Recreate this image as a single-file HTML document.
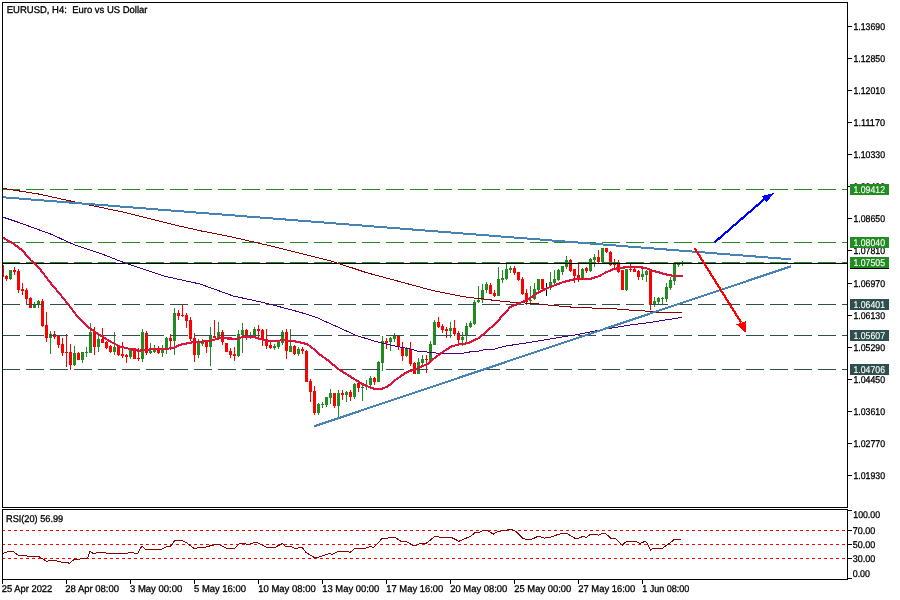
<!DOCTYPE html><html><head><meta charset="utf-8"><style>html,body{margin:0;padding:0;background:#fff}</style></head><body><svg width="900" height="600" viewBox="0 0 900 600" style="display:block;will-change:transform">
<rect width="900" height="600" fill="#fff"/>
<clipPath id="cp"><rect x="3" y="3" width="844" height="504"/></clipPath>
<g shape-rendering="crispEdges">
<g clip-path="url(#cp)">
<rect x="2" y="265" width="1" height="12" fill="#ff0000"/>
<rect x="1" y="265" width="3" height="12" fill="#ff0000"/>
<rect x="6" y="275" width="1" height="6" fill="#ff0000"/>
<rect x="5" y="276" width="3" height="3" fill="#ff0000"/>
<rect x="10" y="270" width="1" height="10" fill="#228b22"/>
<rect x="9" y="270" width="3" height="9" fill="#228b22"/>
<rect x="14" y="267" width="1" height="8" fill="#ff0000"/>
<rect x="13" y="270" width="3" height="2" fill="#ff0000"/>
<rect x="18" y="269" width="1" height="24" fill="#ff0000"/>
<rect x="17" y="271" width="3" height="19" fill="#ff0000"/>
<rect x="22" y="283" width="1" height="12" fill="#ff0000"/>
<rect x="21" y="289" width="3" height="2" fill="#ff0000"/>
<rect x="26" y="288" width="1" height="16" fill="#ff0000"/>
<rect x="25" y="290" width="3" height="9" fill="#ff0000"/>
<rect x="30" y="297" width="1" height="11" fill="#ff0000"/>
<rect x="29" y="298" width="3" height="10" fill="#ff0000"/>
<rect x="34" y="302" width="1" height="6" fill="#228b22"/>
<rect x="33" y="305" width="3" height="3" fill="#228b22"/>
<rect x="38" y="300" width="1" height="8" fill="#228b22"/>
<rect x="37" y="301" width="3" height="3" fill="#228b22"/>
<rect x="42" y="299" width="1" height="28" fill="#ff0000"/>
<rect x="41" y="301" width="3" height="25" fill="#ff0000"/>
<rect x="46" y="312" width="1" height="30" fill="#ff0000"/>
<rect x="45" y="325" width="3" height="13" fill="#ff0000"/>
<rect x="50" y="331" width="1" height="23" fill="#228b22"/>
<rect x="49" y="334" width="3" height="4" fill="#228b22"/>
<rect x="54" y="331" width="1" height="8" fill="#ff0000"/>
<rect x="53" y="334" width="3" height="3" fill="#ff0000"/>
<rect x="58" y="335" width="1" height="13" fill="#ff0000"/>
<rect x="57" y="336" width="3" height="9" fill="#ff0000"/>
<rect x="62" y="338" width="1" height="18" fill="#ff0000"/>
<rect x="61" y="344" width="3" height="9" fill="#ff0000"/>
<rect x="66" y="334" width="1" height="33" fill="#ff0000"/>
<rect x="65" y="352" width="3" height="1" fill="#ff0000"/>
<rect x="70" y="344" width="1" height="26" fill="#ff0000"/>
<rect x="69" y="352" width="3" height="13" fill="#ff0000"/>
<rect x="74" y="346" width="1" height="20" fill="#228b22"/>
<rect x="73" y="353" width="3" height="12" fill="#228b22"/>
<rect x="78" y="352" width="1" height="8" fill="#ff0000"/>
<rect x="77" y="353" width="3" height="7" fill="#ff0000"/>
<rect x="82" y="352" width="1" height="11" fill="#228b22"/>
<rect x="81" y="352" width="3" height="8" fill="#228b22"/>
<rect x="86" y="347" width="1" height="10" fill="#228b22"/>
<rect x="85" y="352" width="3" height="1" fill="#228b22"/>
<rect x="90" y="323" width="1" height="30" fill="#228b22"/>
<rect x="89" y="332" width="3" height="21" fill="#228b22"/>
<rect x="94" y="327" width="1" height="28" fill="#ff0000"/>
<rect x="93" y="332" width="3" height="15" fill="#ff0000"/>
<rect x="98" y="335" width="1" height="17" fill="#228b22"/>
<rect x="97" y="339" width="3" height="8" fill="#228b22"/>
<rect x="102" y="328" width="1" height="15" fill="#ff0000"/>
<rect x="101" y="339" width="3" height="4" fill="#ff0000"/>
<rect x="106" y="341" width="1" height="8" fill="#ff0000"/>
<rect x="105" y="342" width="3" height="6" fill="#ff0000"/>
<rect x="110" y="345" width="1" height="8" fill="#ff0000"/>
<rect x="109" y="346" width="3" height="6" fill="#ff0000"/>
<rect x="114" y="332" width="1" height="23" fill="#228b22"/>
<rect x="113" y="347" width="3" height="5" fill="#228b22"/>
<rect x="118" y="346" width="1" height="10" fill="#ff0000"/>
<rect x="117" y="347" width="3" height="8" fill="#ff0000"/>
<rect x="122" y="342" width="1" height="16" fill="#ff0000"/>
<rect x="121" y="354" width="3" height="2" fill="#ff0000"/>
<rect x="126" y="354" width="1" height="9" fill="#ff0000"/>
<rect x="125" y="355" width="3" height="2" fill="#ff0000"/>
<rect x="130" y="348" width="1" height="11" fill="#228b22"/>
<rect x="129" y="350" width="3" height="7" fill="#228b22"/>
<rect x="134" y="348" width="1" height="11" fill="#ff0000"/>
<rect x="133" y="348" width="3" height="11" fill="#ff0000"/>
<rect x="138" y="348" width="1" height="13" fill="#ff0000"/>
<rect x="137" y="358" width="3" height="1" fill="#ff0000"/>
<rect x="142" y="329" width="1" height="33" fill="#228b22"/>
<rect x="141" y="332" width="3" height="27" fill="#228b22"/>
<rect x="146" y="331" width="1" height="24" fill="#ff0000"/>
<rect x="145" y="333" width="3" height="20" fill="#ff0000"/>
<rect x="150" y="343" width="1" height="11" fill="#228b22"/>
<rect x="149" y="351" width="3" height="2" fill="#228b22"/>
<rect x="154" y="345" width="1" height="8" fill="#228b22"/>
<rect x="153" y="350" width="3" height="2" fill="#228b22"/>
<rect x="158" y="346" width="1" height="8" fill="#ff0000"/>
<rect x="157" y="349" width="3" height="4" fill="#ff0000"/>
<rect x="162" y="345" width="1" height="12" fill="#228b22"/>
<rect x="161" y="349" width="3" height="4" fill="#228b22"/>
<rect x="166" y="337" width="1" height="17" fill="#228b22"/>
<rect x="165" y="338" width="3" height="12" fill="#228b22"/>
<rect x="170" y="334" width="1" height="16" fill="#ff0000"/>
<rect x="169" y="338" width="3" height="3" fill="#ff0000"/>
<rect x="174" y="308" width="1" height="47" fill="#228b22"/>
<rect x="173" y="313" width="3" height="28" fill="#228b22"/>
<rect x="178" y="310" width="1" height="10" fill="#ff0000"/>
<rect x="177" y="313" width="3" height="3" fill="#ff0000"/>
<rect x="182" y="304" width="1" height="13" fill="#ff0000"/>
<rect x="181" y="315" width="3" height="1" fill="#ff0000"/>
<rect x="186" y="313" width="1" height="15" fill="#ff0000"/>
<rect x="185" y="315" width="3" height="6" fill="#ff0000"/>
<rect x="190" y="317" width="1" height="24" fill="#ff0000"/>
<rect x="189" y="320" width="3" height="19" fill="#ff0000"/>
<rect x="194" y="333" width="1" height="29" fill="#ff0000"/>
<rect x="193" y="338" width="3" height="17" fill="#ff0000"/>
<rect x="198" y="339" width="1" height="19" fill="#228b22"/>
<rect x="197" y="341" width="3" height="14" fill="#228b22"/>
<rect x="202" y="339" width="1" height="7" fill="#228b22"/>
<rect x="201" y="341" width="3" height="3" fill="#228b22"/>
<rect x="206" y="341" width="1" height="12" fill="#ff0000"/>
<rect x="205" y="341" width="3" height="6" fill="#ff0000"/>
<rect x="210" y="327" width="1" height="39" fill="#228b22"/>
<rect x="209" y="336" width="3" height="11" fill="#228b22"/>
<rect x="214" y="320" width="1" height="18" fill="#ff0000"/>
<rect x="213" y="336" width="3" height="2" fill="#ff0000"/>
<rect x="218" y="322" width="1" height="16" fill="#228b22"/>
<rect x="217" y="332" width="3" height="6" fill="#228b22"/>
<rect x="222" y="330" width="1" height="15" fill="#ff0000"/>
<rect x="221" y="332" width="3" height="10" fill="#ff0000"/>
<rect x="226" y="343" width="1" height="9" fill="#ff0000"/>
<rect x="225" y="343" width="3" height="9" fill="#ff0000"/>
<rect x="230" y="348" width="1" height="10" fill="#ff0000"/>
<rect x="229" y="351" width="3" height="4" fill="#ff0000"/>
<rect x="234" y="347" width="1" height="14" fill="#ff0000"/>
<rect x="233" y="354" width="3" height="2" fill="#ff0000"/>
<rect x="238" y="330" width="1" height="27" fill="#228b22"/>
<rect x="237" y="334" width="3" height="22" fill="#228b22"/>
<rect x="242" y="323" width="1" height="30" fill="#228b22"/>
<rect x="241" y="330" width="3" height="5" fill="#228b22"/>
<rect x="246" y="329" width="1" height="11" fill="#ff0000"/>
<rect x="245" y="330" width="3" height="7" fill="#ff0000"/>
<rect x="250" y="332" width="1" height="7" fill="#228b22"/>
<rect x="249" y="335" width="3" height="2" fill="#228b22"/>
<rect x="254" y="327" width="1" height="10" fill="#228b22"/>
<rect x="253" y="329" width="3" height="7" fill="#228b22"/>
<rect x="258" y="325" width="1" height="13" fill="#ff0000"/>
<rect x="257" y="329" width="3" height="2" fill="#ff0000"/>
<rect x="262" y="329" width="1" height="17" fill="#ff0000"/>
<rect x="261" y="330" width="3" height="10" fill="#ff0000"/>
<rect x="266" y="329" width="1" height="20" fill="#ff0000"/>
<rect x="265" y="339" width="3" height="7" fill="#ff0000"/>
<rect x="270" y="342" width="1" height="7" fill="#ff0000"/>
<rect x="269" y="345" width="3" height="3" fill="#ff0000"/>
<rect x="274" y="344" width="1" height="6" fill="#228b22"/>
<rect x="273" y="346" width="3" height="2" fill="#228b22"/>
<rect x="278" y="341" width="1" height="8" fill="#228b22"/>
<rect x="277" y="342" width="3" height="5" fill="#228b22"/>
<rect x="282" y="330" width="1" height="15" fill="#228b22"/>
<rect x="281" y="332" width="3" height="11" fill="#228b22"/>
<rect x="286" y="329" width="1" height="30" fill="#ff0000"/>
<rect x="285" y="332" width="3" height="19" fill="#ff0000"/>
<rect x="290" y="329" width="1" height="23" fill="#228b22"/>
<rect x="289" y="346" width="3" height="6" fill="#228b22"/>
<rect x="294" y="345" width="1" height="10" fill="#ff0000"/>
<rect x="293" y="346" width="3" height="8" fill="#ff0000"/>
<rect x="298" y="347" width="1" height="9" fill="#228b22"/>
<rect x="297" y="349" width="3" height="5" fill="#228b22"/>
<rect x="302" y="347" width="1" height="7" fill="#ff0000"/>
<rect x="301" y="349" width="3" height="2" fill="#ff0000"/>
<rect x="306" y="350" width="1" height="32" fill="#ff0000"/>
<rect x="305" y="351" width="3" height="31" fill="#ff0000"/>
<rect x="310" y="379" width="1" height="23" fill="#ff0000"/>
<rect x="309" y="381" width="3" height="11" fill="#ff0000"/>
<rect x="314" y="386" width="1" height="29" fill="#ff0000"/>
<rect x="313" y="391" width="3" height="22" fill="#ff0000"/>
<rect x="318" y="403" width="1" height="12" fill="#228b22"/>
<rect x="317" y="404" width="3" height="9" fill="#228b22"/>
<rect x="322" y="402" width="1" height="6" fill="#228b22"/>
<rect x="321" y="404" width="3" height="1" fill="#228b22"/>
<rect x="326" y="397" width="1" height="10" fill="#228b22"/>
<rect x="325" y="397" width="3" height="8" fill="#228b22"/>
<rect x="330" y="389" width="1" height="15" fill="#228b22"/>
<rect x="329" y="393" width="3" height="5" fill="#228b22"/>
<rect x="334" y="393" width="1" height="15" fill="#ff0000"/>
<rect x="333" y="393" width="3" height="13" fill="#ff0000"/>
<rect x="338" y="390" width="1" height="27" fill="#228b22"/>
<rect x="337" y="393" width="3" height="13" fill="#228b22"/>
<rect x="342" y="390" width="1" height="10" fill="#ff0000"/>
<rect x="341" y="393" width="3" height="2" fill="#ff0000"/>
<rect x="346" y="391" width="1" height="11" fill="#228b22"/>
<rect x="345" y="392" width="3" height="3" fill="#228b22"/>
<rect x="350" y="390" width="1" height="11" fill="#ff0000"/>
<rect x="349" y="392" width="3" height="5" fill="#ff0000"/>
<rect x="354" y="383" width="1" height="16" fill="#228b22"/>
<rect x="353" y="384" width="3" height="13" fill="#228b22"/>
<rect x="358" y="382" width="1" height="10" fill="#ff0000"/>
<rect x="357" y="383" width="3" height="5" fill="#ff0000"/>
<rect x="362" y="385" width="1" height="16" fill="#228b22"/>
<rect x="361" y="387" width="3" height="1" fill="#228b22"/>
<rect x="366" y="380" width="1" height="10" fill="#228b22"/>
<rect x="365" y="385" width="3" height="2" fill="#228b22"/>
<rect x="370" y="376" width="1" height="10" fill="#228b22"/>
<rect x="369" y="378" width="3" height="7" fill="#228b22"/>
<rect x="374" y="377" width="1" height="8" fill="#ff0000"/>
<rect x="373" y="378" width="3" height="4" fill="#ff0000"/>
<rect x="378" y="361" width="1" height="21" fill="#228b22"/>
<rect x="377" y="362" width="3" height="20" fill="#228b22"/>
<rect x="382" y="336" width="1" height="35" fill="#228b22"/>
<rect x="381" y="341" width="3" height="22" fill="#228b22"/>
<rect x="386" y="338" width="1" height="11" fill="#ff0000"/>
<rect x="385" y="341" width="3" height="2" fill="#ff0000"/>
<rect x="390" y="337" width="1" height="14" fill="#228b22"/>
<rect x="389" y="338" width="3" height="4" fill="#228b22"/>
<rect x="394" y="333" width="1" height="9" fill="#228b22"/>
<rect x="393" y="335" width="3" height="4" fill="#228b22"/>
<rect x="398" y="335" width="1" height="15" fill="#ff0000"/>
<rect x="397" y="336" width="3" height="11" fill="#ff0000"/>
<rect x="402" y="342" width="1" height="19" fill="#ff0000"/>
<rect x="401" y="348" width="3" height="8" fill="#ff0000"/>
<rect x="406" y="347" width="1" height="10" fill="#228b22"/>
<rect x="405" y="349" width="3" height="7" fill="#228b22"/>
<rect x="410" y="342" width="1" height="24" fill="#ff0000"/>
<rect x="409" y="349" width="3" height="15" fill="#ff0000"/>
<rect x="414" y="362" width="1" height="12" fill="#ff0000"/>
<rect x="413" y="363" width="3" height="11" fill="#ff0000"/>
<rect x="418" y="358" width="1" height="16" fill="#228b22"/>
<rect x="417" y="362" width="3" height="12" fill="#228b22"/>
<rect x="422" y="355" width="1" height="10" fill="#228b22"/>
<rect x="421" y="359" width="3" height="4" fill="#228b22"/>
<rect x="426" y="355" width="1" height="18" fill="#ff0000"/>
<rect x="425" y="359" width="3" height="1" fill="#ff0000"/>
<rect x="430" y="341" width="1" height="20" fill="#228b22"/>
<rect x="429" y="344" width="3" height="17" fill="#228b22"/>
<rect x="434" y="320" width="1" height="25" fill="#228b22"/>
<rect x="433" y="322" width="3" height="23" fill="#228b22"/>
<rect x="438" y="317" width="1" height="11" fill="#ff0000"/>
<rect x="437" y="322" width="3" height="5" fill="#ff0000"/>
<rect x="442" y="324" width="1" height="9" fill="#ff0000"/>
<rect x="441" y="326" width="3" height="4" fill="#ff0000"/>
<rect x="446" y="327" width="1" height="11" fill="#ff0000"/>
<rect x="445" y="329" width="3" height="2" fill="#ff0000"/>
<rect x="450" y="322" width="1" height="16" fill="#228b22"/>
<rect x="449" y="328" width="3" height="3" fill="#228b22"/>
<rect x="454" y="320" width="1" height="16" fill="#ff0000"/>
<rect x="453" y="328" width="3" height="6" fill="#ff0000"/>
<rect x="458" y="331" width="1" height="13" fill="#ff0000"/>
<rect x="457" y="333" width="3" height="7" fill="#ff0000"/>
<rect x="462" y="332" width="1" height="14" fill="#228b22"/>
<rect x="461" y="337" width="3" height="3" fill="#228b22"/>
<rect x="466" y="323" width="1" height="20" fill="#228b22"/>
<rect x="465" y="326" width="3" height="10" fill="#228b22"/>
<rect x="470" y="321" width="1" height="7" fill="#228b22"/>
<rect x="469" y="323" width="3" height="4" fill="#228b22"/>
<rect x="474" y="300" width="1" height="25" fill="#228b22"/>
<rect x="473" y="302" width="3" height="22" fill="#228b22"/>
<rect x="478" y="286" width="1" height="17" fill="#228b22"/>
<rect x="477" y="300" width="3" height="2" fill="#228b22"/>
<rect x="482" y="284" width="1" height="19" fill="#228b22"/>
<rect x="481" y="290" width="3" height="10" fill="#228b22"/>
<rect x="486" y="282" width="1" height="11" fill="#228b22"/>
<rect x="485" y="284" width="3" height="6" fill="#228b22"/>
<rect x="490" y="283" width="1" height="11" fill="#ff0000"/>
<rect x="489" y="285" width="3" height="9" fill="#ff0000"/>
<rect x="494" y="290" width="1" height="7" fill="#ff0000"/>
<rect x="493" y="293" width="3" height="3" fill="#ff0000"/>
<rect x="498" y="267" width="1" height="29" fill="#228b22"/>
<rect x="497" y="279" width="3" height="17" fill="#228b22"/>
<rect x="502" y="270" width="1" height="13" fill="#228b22"/>
<rect x="501" y="278" width="3" height="2" fill="#228b22"/>
<rect x="506" y="263" width="1" height="17" fill="#228b22"/>
<rect x="505" y="269" width="3" height="10" fill="#228b22"/>
<rect x="510" y="266" width="1" height="7" fill="#228b22"/>
<rect x="509" y="268" width="3" height="2" fill="#228b22"/>
<rect x="514" y="266" width="1" height="9" fill="#ff0000"/>
<rect x="513" y="268" width="3" height="5" fill="#ff0000"/>
<rect x="518" y="272" width="1" height="9" fill="#ff0000"/>
<rect x="517" y="272" width="3" height="8" fill="#ff0000"/>
<rect x="522" y="277" width="1" height="18" fill="#ff0000"/>
<rect x="521" y="279" width="3" height="15" fill="#ff0000"/>
<rect x="526" y="289" width="1" height="16" fill="#ff0000"/>
<rect x="525" y="293" width="3" height="9" fill="#ff0000"/>
<rect x="530" y="286" width="1" height="17" fill="#228b22"/>
<rect x="529" y="300" width="3" height="1" fill="#228b22"/>
<rect x="534" y="283" width="1" height="17" fill="#228b22"/>
<rect x="533" y="289" width="3" height="10" fill="#228b22"/>
<rect x="538" y="279" width="1" height="13" fill="#228b22"/>
<rect x="537" y="279" width="3" height="11" fill="#228b22"/>
<rect x="542" y="279" width="1" height="10" fill="#ff0000"/>
<rect x="541" y="279" width="3" height="10" fill="#ff0000"/>
<rect x="546" y="283" width="1" height="13" fill="#000"/>
<rect x="550" y="272" width="1" height="18" fill="#228b22"/>
<rect x="549" y="282" width="3" height="6" fill="#228b22"/>
<rect x="554" y="270" width="1" height="14" fill="#228b22"/>
<rect x="553" y="279" width="3" height="4" fill="#228b22"/>
<rect x="558" y="269" width="1" height="12" fill="#228b22"/>
<rect x="557" y="270" width="3" height="10" fill="#228b22"/>
<rect x="562" y="266" width="1" height="9" fill="#228b22"/>
<rect x="561" y="266" width="3" height="6" fill="#228b22"/>
<rect x="566" y="256" width="1" height="13" fill="#228b22"/>
<rect x="565" y="260" width="3" height="7" fill="#228b22"/>
<rect x="570" y="259" width="1" height="13" fill="#ff0000"/>
<rect x="569" y="260" width="3" height="11" fill="#ff0000"/>
<rect x="574" y="269" width="1" height="14" fill="#ff0000"/>
<rect x="573" y="269" width="3" height="7" fill="#ff0000"/>
<rect x="578" y="263" width="1" height="19" fill="#ff0000"/>
<rect x="577" y="275" width="3" height="4" fill="#ff0000"/>
<rect x="582" y="268" width="1" height="11" fill="#228b22"/>
<rect x="581" y="269" width="3" height="10" fill="#228b22"/>
<rect x="586" y="267" width="1" height="6" fill="#ff0000"/>
<rect x="585" y="268" width="3" height="3" fill="#ff0000"/>
<rect x="590" y="258" width="1" height="14" fill="#228b22"/>
<rect x="589" y="259" width="3" height="12" fill="#228b22"/>
<rect x="594" y="254" width="1" height="13" fill="#228b22"/>
<rect x="593" y="257" width="3" height="3" fill="#228b22"/>
<rect x="598" y="250" width="1" height="14" fill="#ff0000"/>
<rect x="597" y="257" width="3" height="5" fill="#ff0000"/>
<rect x="602" y="248" width="1" height="14" fill="#228b22"/>
<rect x="601" y="248" width="3" height="14" fill="#228b22"/>
<rect x="606" y="248" width="1" height="5" fill="#ff0000"/>
<rect x="605" y="248" width="3" height="4" fill="#ff0000"/>
<rect x="610" y="251" width="1" height="15" fill="#ff0000"/>
<rect x="609" y="252" width="3" height="13" fill="#ff0000"/>
<rect x="614" y="259" width="1" height="10" fill="#ff0000"/>
<rect x="613" y="263" width="3" height="2" fill="#ff0000"/>
<rect x="618" y="260" width="1" height="13" fill="#ff0000"/>
<rect x="617" y="263" width="3" height="9" fill="#ff0000"/>
<rect x="622" y="270" width="1" height="20" fill="#ff0000"/>
<rect x="621" y="270" width="3" height="20" fill="#ff0000"/>
<rect x="626" y="269" width="1" height="22" fill="#228b22"/>
<rect x="625" y="269" width="3" height="21" fill="#228b22"/>
<rect x="630" y="263" width="1" height="9" fill="#ff0000"/>
<rect x="629" y="269" width="3" height="1" fill="#ff0000"/>
<rect x="634" y="268" width="1" height="4" fill="#ff0000"/>
<rect x="633" y="269" width="3" height="3" fill="#ff0000"/>
<rect x="638" y="270" width="1" height="10" fill="#ff0000"/>
<rect x="637" y="271" width="3" height="6" fill="#ff0000"/>
<rect x="642" y="269" width="1" height="11" fill="#228b22"/>
<rect x="641" y="274" width="3" height="3" fill="#228b22"/>
<rect x="646" y="270" width="1" height="12" fill="#228b22"/>
<rect x="645" y="271" width="3" height="4" fill="#228b22"/>
<rect x="650" y="271" width="1" height="39" fill="#ff0000"/>
<rect x="649" y="271" width="3" height="34" fill="#ff0000"/>
<rect x="654" y="297" width="1" height="10" fill="#228b22"/>
<rect x="653" y="301" width="3" height="4" fill="#228b22"/>
<rect x="658" y="297" width="1" height="7" fill="#228b22"/>
<rect x="657" y="298" width="3" height="4" fill="#228b22"/>
<rect x="662" y="297" width="1" height="7" fill="#228b22"/>
<rect x="661" y="298" width="3" height="1" fill="#228b22"/>
<rect x="666" y="283" width="1" height="19" fill="#228b22"/>
<rect x="665" y="287" width="3" height="12" fill="#228b22"/>
<rect x="670" y="277" width="1" height="13" fill="#228b22"/>
<rect x="669" y="280" width="3" height="8" fill="#228b22"/>
<rect x="674" y="263" width="1" height="22" fill="#228b22"/>
<rect x="673" y="264" width="3" height="17" fill="#228b22"/>
<rect x="678" y="263" width="1" height="4" fill="#228b22"/>
<rect x="677" y="263" width="3" height="2" fill="#228b22"/>
<rect x="682" y="261" width="1" height="5" fill="#228b22"/>
<rect x="681" y="263" width="3" height="1" fill="#228b22"/>
</g>
<line x1="2" y1="189.5" x2="848" y2="189.5" stroke="#228b22" stroke-width="1" stroke-dasharray="18 6"/>
<line x1="2" y1="242.5" x2="848" y2="242.5" stroke="#228b22" stroke-width="1" stroke-dasharray="18 6"/>
<line x1="2" y1="262.5" x2="848" y2="262.5" stroke="#228b22" stroke-width="1" stroke-dasharray="18 6"/>
<line x1="2" y1="304.5" x2="848" y2="304.5" stroke="#2f4f4f" stroke-width="1" stroke-dasharray="18 6"/>
<line x1="2" y1="335.5" x2="848" y2="335.5" stroke="#2f4f4f" stroke-width="1" stroke-dasharray="18 6"/>
<line x1="2" y1="369.5" x2="848" y2="369.5" stroke="#2f4f4f" stroke-width="1" stroke-dasharray="18 6"/>
<rect x="2" y="263" width="846" height="1" fill="#000"/>
<line x1="2" y1="530.5" x2="848" y2="530.5" stroke="#ff0000" stroke-width="1" stroke-dasharray="3 3"/>
<line x1="2" y1="544.5" x2="848" y2="544.5" stroke="#ff0000" stroke-width="1" stroke-dasharray="3 3"/>
<line x1="2" y1="558.5" x2="848" y2="558.5" stroke="#ff0000" stroke-width="1" stroke-dasharray="3 3"/>
</g>
<polyline points="2.0,188.3 37.5,193.8 75.0,202.0 125.0,212.5 175.0,225.0 200.0,230.7 233.3,237.3 266.7,245.0 300.0,253.3 333.3,261.7 366.7,272.7 400.0,281.7 433.3,290.7 460.0,296.0 470.0,297.6 483.3,298.9 496.7,300.7 514.0,302.4 536.7,303.7 550.0,305.3 563.3,306.4 574.0,307.3 590.0,307.6 593.3,308.3 617.3,309.0 629.3,310.0 649.3,311.3 661.3,312.7 682.0,312.7" fill="none" stroke="#8b0000" stroke-width="1" stroke-linejoin="round" stroke-linecap="butt" shape-rendering="crispEdges" />
<polyline points="2.5,217.0 17.5,222.0 50.0,233.8 75.0,245.0 100.0,253.2 125.0,263.0 150.0,271.3 165.0,276.3 200.0,284.0 233.3,296.0 266.7,303.3 300.0,312.2 316.7,317.6 333.3,325.0 356.7,335.6 376.7,341.7 388.3,344.7 401.7,347.3 412.3,349.6 417.7,351.3 431.0,352.3 437.7,353.3 463.0,353.3 471.0,351.7 479.0,351.0 484.3,349.6 495.0,349.0 504.4,346.2 528.9,342.6 553.3,338.4 577.8,334.5 602.2,329.6 626.7,325.5 651.1,322.3 681.7,317.4" fill="none" stroke="#4b0082" stroke-width="1" stroke-linejoin="round" stroke-linecap="butt" shape-rendering="crispEdges" />
<polyline points="2.5,237.5 13.5,243.8 22.5,250.5 30.0,259.5 40.5,269.8 50.0,282.3 60.7,295.0 69.3,305.7 77.3,316.3 88.0,327.0 98.7,334.3 109.3,341.0 119.3,346.3 130.0,349.0 138.7,350.7 150.0,349.4 166.0,349.0 174.0,347.7 179.3,345.0 190.0,342.7 203.3,341.4 211.3,340.6 219.3,338.3 230.0,338.5 237.3,338.7 242.7,337.0 254.7,337.3 260.0,339.0 266.7,340.7 278.7,341.0 282.7,339.6 286.7,340.4 294.7,341.3 302.7,343.0 308.0,344.7 313.3,348.7 320.0,354.7 329.3,361.3 337.7,368.7 348.3,375.3 359.0,382.0 364.3,385.0 371.0,387.7 375.0,389.0 381.7,389.0 388.3,386.0 396.3,379.3 407.0,372.0 413.7,370.0 428.3,363.7 433.7,358.7 441.7,352.7 451.0,346.7 457.7,344.7 468.3,343.0 479.0,338.0 487.0,331.0 495.0,324.0 498.7,320.0 510.0,307.3 520.7,302.7 528.7,299.0 536.7,293.3 544.7,289.3 552.7,286.0 563.3,282.0 574.0,279.3 590.0,279.0 598.7,276.3 606.7,272.0 613.3,269.3 620.0,267.7 633.3,267.0 645.3,267.7 652.0,270.7 660.0,272.7 668.0,275.0 673.3,275.7 682.7,275.7" fill="none" stroke="#dc143c" stroke-width="2.1" stroke-linejoin="round" stroke-linecap="butt" shape-rendering="crispEdges" />
<polyline points="3.2,553.3 8.0,551.5 13.3,551.5 18.0,555.2 24.0,555.5 32.0,556.8 38.7,556.5 46.7,561.3 53.3,560.0 60.0,561.9 70.0,563.2 74.7,558.7 77.3,560.0 81.3,558.7 87.5,558.0 90.0,551.5 94.0,554.0 97.3,552.5 104.0,552.5 109.3,554.0 114.7,553.3 125.3,554.0 130.7,552.0 137.3,554.0 141.9,546.0 146.0,550.0 154.7,549.3 160.0,550.0 166.7,546.7 170.7,546.0 174.7,540.5 181.3,540.5 185.3,542.0 194.7,548.8 198.7,547.2 205.3,547.2 212.0,545.3 218.7,544.5 226.7,548.5 234.0,549.0 239.3,544.0 243.3,543.5 248.7,544.5 255.3,542.1 259.3,543.5 266.0,547.2 275.3,547.2 282.5,543.5 286.0,546.7 290.0,546.1 295.3,548.5 302.0,547.2 306.0,552.5 315.3,558.1 322.0,556.0 328.7,553.9 332.7,554.1 338.0,551.5 347.3,551.5 350.0,552.5 355.3,548.0 363.3,548.8 370.0,546.7 374.0,547.2 382.5,538.1 387.3,538.1 391.3,537.1 395.3,537.6 402.0,541.9 406.0,541.3 414.0,546.1 419.3,544.0 426.0,543.5 434.8,536.5 440.7,537.3 446.0,537.9 451.3,537.3 458.8,541.3 464.7,538.7 470.7,536.5 474.7,532.8 478.7,532.5 484.0,530.1 486.7,530.1 493.3,534.1 498.7,531.2 504.0,530.7 510.7,529.3 516.0,531.5 522.7,538.1 528.0,540.0 532.0,539.2 538.7,536.0 544.0,538.1 550.7,537.3 558.7,534.1 566.7,533.3 574.7,538.1 578.7,538.1 582.7,536.5 586.7,537.3 590.7,534.1 596.0,534.1 598.7,535.2 602.7,533.3 606.0,533.9 610.7,538.1 616.0,538.7 622.0,545.3 626.7,541.3 636.0,541.3 640.0,543.5 645.3,541.3 646.7,542.7 650.7,550.1 653.3,548.0 662.7,548.0 669.3,543.5 674.7,539.2 681.3,539.2" fill="none" stroke="#8b0000" stroke-width="1" stroke-linejoin="round" stroke-linecap="butt" shape-rendering="crispEdges" />
<line x1="2" y1="197.2" x2="791" y2="259.3" stroke="#4682b4" stroke-width="2" shape-rendering="crispEdges"/>
<line x1="314.3" y1="426.3" x2="791" y2="266.3" stroke="#4682b4" stroke-width="2" shape-rendering="crispEdges"/>
<line x1="714.5" y1="242.4" x2="764.4" y2="199.1" stroke="#0000ff" stroke-width="2.2" shape-rendering="crispEdges"/>
<polygon points="774.2,192.8 762.0,196.0 766.8,202.2" fill="#0000ff" shape-rendering="crispEdges"/>
<line x1="694.7" y1="248.3" x2="741.2" y2="322.6" stroke="#ff0000" stroke-width="2.2" shape-rendering="crispEdges"/>
<polygon points="746.2,333.0 736.2,324.3 746.2,321.0" fill="#ff0000" shape-rendering="crispEdges"/>
<g shape-rendering="crispEdges" fill="#000">
<rect x="2" y="2" width="846" height="1"/>
<rect x="2" y="2" width="1" height="506"/>
<rect x="847" y="2" width="1" height="506"/>
<rect x="2" y="507" width="846" height="1"/>
<rect x="2" y="509" width="846" height="1"/>
<rect x="2" y="509" width="1" height="71"/>
<rect x="847" y="509" width="1" height="71"/>
<rect x="2" y="579" width="846" height="1"/>
<rect x="848" y="26" width="4" height="1"/>
<rect x="848" y="58" width="4" height="1"/>
<rect x="848" y="90" width="4" height="1"/>
<rect x="848" y="122" width="4" height="1"/>
<rect x="848" y="154" width="4" height="1"/>
<rect x="848" y="186" width="4" height="1"/>
<rect x="848" y="218" width="4" height="1"/>
<rect x="848" y="250" width="4" height="1"/>
<rect x="848" y="283" width="4" height="1"/>
<rect x="848" y="315" width="4" height="1"/>
<rect x="848" y="347" width="4" height="1"/>
<rect x="848" y="379" width="4" height="1"/>
<rect x="848" y="411" width="4" height="1"/>
<rect x="848" y="443" width="4" height="1"/>
<rect x="848" y="475" width="4" height="1"/>
<rect x="848" y="510" width="4" height="1"/>
<rect x="848" y="530" width="4" height="1"/>
<rect x="848" y="544" width="4" height="1"/>
<rect x="848" y="558" width="4" height="1"/>
<rect x="848" y="578" width="4" height="1"/>
<rect x="2" y="580" width="1" height="4"/>
<rect x="66" y="580" width="1" height="4"/>
<rect x="130" y="580" width="1" height="4"/>
<rect x="194" y="580" width="1" height="4"/>
<rect x="258" y="580" width="1" height="4"/>
<rect x="322" y="580" width="1" height="4"/>
<rect x="386" y="580" width="1" height="4"/>
<rect x="450" y="580" width="1" height="4"/>
<rect x="514" y="580" width="1" height="4"/>
<rect x="578" y="580" width="1" height="4"/>
<rect x="642" y="580" width="1" height="4"/>
</g>
<text text-rendering="geometricPrecision" x="853.5" y="30" font-size="9.8" fill="#000" stroke="#000" stroke-width="0.3" style="font-family:'Liberation Sans',sans-serif" textLength="31.5" lengthAdjust="spacingAndGlyphs">1.13690</text>
<text text-rendering="geometricPrecision" x="853.5" y="62" font-size="9.8" fill="#000" stroke="#000" stroke-width="0.3" style="font-family:'Liberation Sans',sans-serif" textLength="31.5" lengthAdjust="spacingAndGlyphs">1.12850</text>
<text text-rendering="geometricPrecision" x="853.5" y="94" font-size="9.8" fill="#000" stroke="#000" stroke-width="0.3" style="font-family:'Liberation Sans',sans-serif" textLength="31.5" lengthAdjust="spacingAndGlyphs">1.12010</text>
<text text-rendering="geometricPrecision" x="853.5" y="126" font-size="9.8" fill="#000" stroke="#000" stroke-width="0.3" style="font-family:'Liberation Sans',sans-serif" textLength="31.5" lengthAdjust="spacingAndGlyphs">1.11170</text>
<text text-rendering="geometricPrecision" x="853.5" y="158" font-size="9.8" fill="#000" stroke="#000" stroke-width="0.3" style="font-family:'Liberation Sans',sans-serif" textLength="31.5" lengthAdjust="spacingAndGlyphs">1.10330</text>
<text text-rendering="geometricPrecision" x="853.5" y="190" font-size="9.8" fill="#000" stroke="#000" stroke-width="0.3" style="font-family:'Liberation Sans',sans-serif" textLength="31.5" lengthAdjust="spacingAndGlyphs">1.09490</text>
<text text-rendering="geometricPrecision" x="853.5" y="222" font-size="9.8" fill="#000" stroke="#000" stroke-width="0.3" style="font-family:'Liberation Sans',sans-serif" textLength="31.5" lengthAdjust="spacingAndGlyphs">1.08650</text>
<text text-rendering="geometricPrecision" x="853.5" y="254" font-size="9.8" fill="#000" stroke="#000" stroke-width="0.3" style="font-family:'Liberation Sans',sans-serif" textLength="31.5" lengthAdjust="spacingAndGlyphs">1.07810</text>
<text text-rendering="geometricPrecision" x="853.5" y="287" font-size="9.8" fill="#000" stroke="#000" stroke-width="0.3" style="font-family:'Liberation Sans',sans-serif" textLength="31.5" lengthAdjust="spacingAndGlyphs">1.06970</text>
<text text-rendering="geometricPrecision" x="853.5" y="319" font-size="9.8" fill="#000" stroke="#000" stroke-width="0.3" style="font-family:'Liberation Sans',sans-serif" textLength="31.5" lengthAdjust="spacingAndGlyphs">1.06130</text>
<text text-rendering="geometricPrecision" x="853.5" y="351" font-size="9.8" fill="#000" stroke="#000" stroke-width="0.3" style="font-family:'Liberation Sans',sans-serif" textLength="31.5" lengthAdjust="spacingAndGlyphs">1.05290</text>
<text text-rendering="geometricPrecision" x="853.5" y="383" font-size="9.8" fill="#000" stroke="#000" stroke-width="0.3" style="font-family:'Liberation Sans',sans-serif" textLength="31.5" lengthAdjust="spacingAndGlyphs">1.04450</text>
<text text-rendering="geometricPrecision" x="853.5" y="415" font-size="9.8" fill="#000" stroke="#000" stroke-width="0.3" style="font-family:'Liberation Sans',sans-serif" textLength="31.5" lengthAdjust="spacingAndGlyphs">1.03610</text>
<text text-rendering="geometricPrecision" x="853.5" y="447" font-size="9.8" fill="#000" stroke="#000" stroke-width="0.3" style="font-family:'Liberation Sans',sans-serif" textLength="31.5" lengthAdjust="spacingAndGlyphs">1.02770</text>
<text text-rendering="geometricPrecision" x="853.5" y="479" font-size="9.8" fill="#000" stroke="#000" stroke-width="0.3" style="font-family:'Liberation Sans',sans-serif" textLength="31.5" lengthAdjust="spacingAndGlyphs">1.01930</text>
<rect x="850" y="184" width="39" height="11" fill="#228b22" shape-rendering="crispEdges"/>
<text text-rendering="geometricPrecision" x="853.5" y="193" font-size="9.8" fill="#fff" stroke="#fff" stroke-width="0.12" style="font-family:'Liberation Sans',sans-serif" textLength="31.5" lengthAdjust="spacingAndGlyphs">1.09412</text>
<rect x="850" y="237" width="39" height="11" fill="#228b22" shape-rendering="crispEdges"/>
<text text-rendering="geometricPrecision" x="853.5" y="246" font-size="9.8" fill="#fff" stroke="#fff" stroke-width="0.12" style="font-family:'Liberation Sans',sans-serif" textLength="31.5" lengthAdjust="spacingAndGlyphs">1.08040</text>
<rect x="850" y="299" width="39" height="11" fill="#2f4f4f" shape-rendering="crispEdges"/>
<text text-rendering="geometricPrecision" x="853.5" y="308" font-size="9.8" fill="#fff" stroke="#fff" stroke-width="0.12" style="font-family:'Liberation Sans',sans-serif" textLength="31.5" lengthAdjust="spacingAndGlyphs">1.06401</text>
<rect x="850" y="330" width="39" height="11" fill="#2f4f4f" shape-rendering="crispEdges"/>
<text text-rendering="geometricPrecision" x="853.5" y="339" font-size="9.8" fill="#fff" stroke="#fff" stroke-width="0.12" style="font-family:'Liberation Sans',sans-serif" textLength="31.5" lengthAdjust="spacingAndGlyphs">1.05607</text>
<rect x="850" y="364" width="39" height="11" fill="#2f4f4f" shape-rendering="crispEdges"/>
<text text-rendering="geometricPrecision" x="853.5" y="373" font-size="9.8" fill="#fff" stroke="#fff" stroke-width="0.12" style="font-family:'Liberation Sans',sans-serif" textLength="31.5" lengthAdjust="spacingAndGlyphs">1.04706</text>
<rect x="850" y="258" width="39" height="11" fill="#000" shape-rendering="crispEdges"/>
<rect x="850" y="257" width="39" height="11" fill="#228b22" shape-rendering="crispEdges"/>
<text text-rendering="geometricPrecision" x="853.5" y="266" font-size="9.8" fill="#fff" stroke="#fff" stroke-width="0.12" style="font-family:'Liberation Sans',sans-serif" textLength="31.5" lengthAdjust="spacingAndGlyphs">1.07505</text>
<text text-rendering="geometricPrecision" x="853.3" y="518" font-size="9.8" fill="#000" stroke="#000" stroke-width="0.3" style="font-family:'Liberation Sans',sans-serif" textLength="26.7" lengthAdjust="spacingAndGlyphs">100.00</text>
<text text-rendering="geometricPrecision" x="852.7" y="533.6" font-size="9.8" fill="#000" stroke="#000" stroke-width="0.3" style="font-family:'Liberation Sans',sans-serif" textLength="22.5" lengthAdjust="spacingAndGlyphs">70.00</text>
<text text-rendering="geometricPrecision" x="852.7" y="547.6" font-size="9.8" fill="#000" stroke="#000" stroke-width="0.3" style="font-family:'Liberation Sans',sans-serif" textLength="22.5" lengthAdjust="spacingAndGlyphs">50.00</text>
<text text-rendering="geometricPrecision" x="852.7" y="561.6" font-size="9.8" fill="#000" stroke="#000" stroke-width="0.3" style="font-family:'Liberation Sans',sans-serif" textLength="22.5" lengthAdjust="spacingAndGlyphs">30.00</text>
<text text-rendering="geometricPrecision" x="852.7" y="576.6" font-size="9.8" fill="#000" stroke="#000" stroke-width="0.3" style="font-family:'Liberation Sans',sans-serif" textLength="17.3" lengthAdjust="spacingAndGlyphs">0.00</text>
<text text-rendering="geometricPrecision" x="6.8" y="12.8" font-size="9.8" fill="#000" stroke="#000" stroke-width="0.3" style="font-family:'Liberation Sans',sans-serif" textLength="140.7" lengthAdjust="spacingAndGlyphs">EURUSD, H4:&#160; Euro vs US Dollar</text>
<text text-rendering="geometricPrecision" x="6" y="521.8" font-size="9.8" fill="#000" stroke="#000" stroke-width="0.3" style="font-family:'Liberation Sans',sans-serif" textLength="57.2" lengthAdjust="spacingAndGlyphs">RSI(20) 56.99</text>
<text text-rendering="geometricPrecision" x="1.7" y="592" font-size="9.8" fill="#000" stroke="#000" stroke-width="0.3" style="font-family:'Liberation Sans',sans-serif" textLength="50.6" lengthAdjust="spacingAndGlyphs">25 Apr 2022</text>
<text text-rendering="geometricPrecision" x="65.3" y="592" font-size="9.8" fill="#000" stroke="#000" stroke-width="0.3" style="font-family:'Liberation Sans',sans-serif" textLength="53.7" lengthAdjust="spacingAndGlyphs">28 Apr 08:00</text>
<text text-rendering="geometricPrecision" x="130" y="592" font-size="9.8" fill="#000" stroke="#000" stroke-width="0.3" style="font-family:'Liberation Sans',sans-serif" textLength="52.3" lengthAdjust="spacingAndGlyphs">3 May 00:00</text>
<text text-rendering="geometricPrecision" x="194" y="592" font-size="9.8" fill="#000" stroke="#000" stroke-width="0.3" style="font-family:'Liberation Sans',sans-serif" textLength="52" lengthAdjust="spacingAndGlyphs">5 May 16:00</text>
<text text-rendering="geometricPrecision" x="258.3" y="592" font-size="9.8" fill="#000" stroke="#000" stroke-width="0.3" style="font-family:'Liberation Sans',sans-serif" textLength="57.4" lengthAdjust="spacingAndGlyphs">10 May 08:00</text>
<text text-rendering="geometricPrecision" x="322.3" y="592" font-size="9.8" fill="#000" stroke="#000" stroke-width="0.3" style="font-family:'Liberation Sans',sans-serif" textLength="57" lengthAdjust="spacingAndGlyphs">13 May 00:00</text>
<text text-rendering="geometricPrecision" x="386.3" y="592" font-size="9.8" fill="#000" stroke="#000" stroke-width="0.3" style="font-family:'Liberation Sans',sans-serif" textLength="57" lengthAdjust="spacingAndGlyphs">17 May 16:00</text>
<text text-rendering="geometricPrecision" x="450.3" y="592" font-size="9.8" fill="#000" stroke="#000" stroke-width="0.3" style="font-family:'Liberation Sans',sans-serif" textLength="57" lengthAdjust="spacingAndGlyphs">20 May 08:00</text>
<text text-rendering="geometricPrecision" x="514.3" y="592" font-size="9.8" fill="#000" stroke="#000" stroke-width="0.3" style="font-family:'Liberation Sans',sans-serif" textLength="57" lengthAdjust="spacingAndGlyphs">25 May 00:00</text>
<text text-rendering="geometricPrecision" x="578.3" y="592" font-size="9.8" fill="#000" stroke="#000" stroke-width="0.3" style="font-family:'Liberation Sans',sans-serif" textLength="57" lengthAdjust="spacingAndGlyphs">27 May 16:00</text>
<text text-rendering="geometricPrecision" x="642.3" y="592" font-size="9.8" fill="#000" stroke="#000" stroke-width="0.3" style="font-family:'Liberation Sans',sans-serif" textLength="47" lengthAdjust="spacingAndGlyphs">1 Jun 08:00</text>
</svg></body></html>
